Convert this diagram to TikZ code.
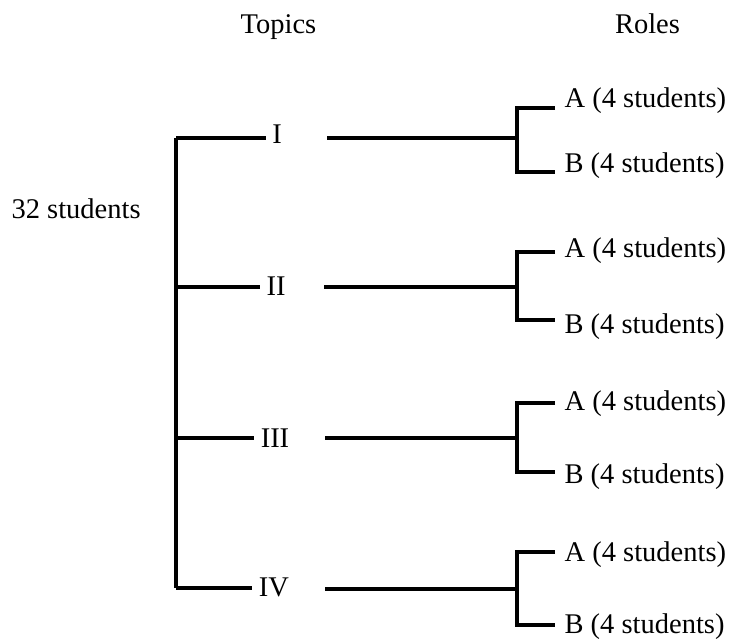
\documentclass[tikz,border=0pt]{standalone}
\usepackage{fontspec}
\setmainfont{Liberation Serif}
\begin{document}
\begin{tikzpicture}[x=1pt, y=-1pt, line width=3.2pt, line join=miter, line cap=butt,
		font=\fontsize{28.5}{34}\selectfont,
		topic/.style={anchor=base, inner sep=5pt},
		role/.style={anchor=base west, inner sep=0pt}]
	\useasboundingbox (0,0) rectangle (733,638);
	% headings
	\node[anchor=base] (hTopics) at (278.5,33) {Topics};
	\node[anchor=base] (hRoles) at (647.5,33) {Roles};
	\node[anchor=base west, inner sep=0pt] (all) at (10,218) {32 students};
	% topics
	\foreach \n/\lab/\x/\yb/\yl in {1/I/277/143/138, 2/II/276/295/287, 3/III/275/447/438, 4/IV/274/596/588} {
			\node[topic] (t\n) at (\x,\yb) {\lab};
			\coordinate (b\n) at (176,\yl);
			\draw (b\n) -- (t\n.west |- b\n);
		}
	\draw (b1) -- (b4);
	% roles
	\foreach \n/\xs/\yl/\ya/\yb/\ta/\tb in {1/327/138/108/172/107/172, 2/324/287/252/320/257/333, 3/325/438/403/472/410/483, 4/325/589/552/625/561/633} {
			\coordinate (s\n) at (\xs,\yl);
			\coordinate (j\n) at (517,\yl);
			\coordinate (ea\n) at (555,\ya);
			\coordinate (eb\n) at (555,\yb);
			\node[role] (a\n) at (563,\ta) {A (4 students)};
			\node[role] (r\n) at (563,\tb) {B (4 students)};
			\draw (s\n) -- (j\n);
			\draw (ea\n) -| (j\n) |- (eb\n);
		}
\end{tikzpicture}
\end{document}
